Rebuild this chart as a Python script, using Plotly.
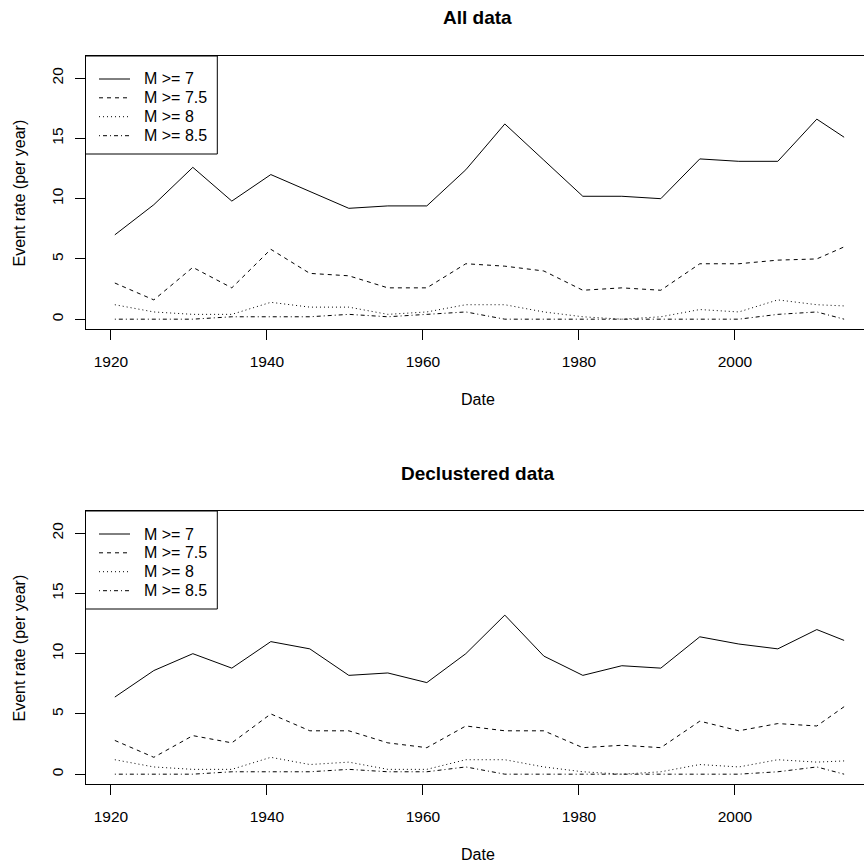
import plotly.graph_objects as go

# Mid-points of the 5-year bins (last bin is a partial one)
years = [1920.5, 1925.5, 1930.5, 1935.5, 1940.5, 1945.5, 1950.5, 1955.5, 1960.5,
         1965.5, 1970.5, 1975.5, 1980.5, 1985.5, 1990.5, 1995.5, 2000.5, 2005.5,
         2010.5, 2014.0]

# Event rates (per year), full catalogue
all_m7 = [7.0, 9.5, 12.6, 9.8, 12.0, 10.6, 9.2, 9.4, 9.4, 12.4,
          16.2, 13.2, 10.2, 10.2, 10.0, 13.3, 13.1, 13.1, 16.6, 15.1]
all_m75 = [3.0, 1.6, 4.3, 2.6, 5.8, 3.8, 3.6, 2.6, 2.6, 4.6,
           4.4, 4.0, 2.4, 2.6, 2.4, 4.6, 4.6, 4.9, 5.0, 6.0]
all_m8 = [1.2, 0.6, 0.4, 0.4, 1.4, 1.0, 1.0, 0.4, 0.6, 1.2,
          1.2, 0.6, 0.2, 0.0, 0.2, 0.8, 0.6, 1.6, 1.2, 1.1]
all_m85 = [0.0, 0.0, 0.0, 0.2, 0.2, 0.2, 0.4, 0.2, 0.4, 0.6,
           0.0, 0.0, 0.0, 0.0, 0.0, 0.0, 0.0, 0.4, 0.6, 0.0]

# Event rates (per year), declustered catalogue
dec_m7 = [6.4, 8.6, 10.0, 8.8, 11.0, 10.4, 8.2, 8.4, 7.6, 10.0,
          13.2, 9.8, 8.2, 9.0, 8.8, 11.4, 10.8, 10.4, 12.0, 11.1]
dec_m75 = [2.8, 1.4, 3.2, 2.6, 5.0, 3.6, 3.6, 2.6, 2.2, 4.0,
           3.6, 3.6, 2.2, 2.4, 2.2, 4.4, 3.6, 4.2, 4.0, 5.6]
dec_m8 = [1.2, 0.6, 0.4, 0.4, 1.4, 0.8, 1.0, 0.4, 0.4, 1.2,
          1.2, 0.6, 0.2, 0.0, 0.2, 0.8, 0.6, 1.2, 1.0, 1.1]
dec_m85 = [0.0, 0.0, 0.0, 0.2, 0.2, 0.2, 0.4, 0.2, 0.2, 0.6,
           0.0, 0.0, 0.0, 0.0, 0.0, 0.0, 0.0, 0.2, 0.6, 0.0]

series_names = ["M >= 7", "M >= 7.5", "M >= 8", "M >= 8.5"]
panel_titles = ["All data", "Declustered data"]
x_ticks = [1920, 1940, 1960, 1980, 2000]
y_ticks = [0, 5, 10, 15, 20]

# R-style line types: solid, dashed, dotted, dot-dash
dashes = ["solid", "4px,4px", "1px,3px", "1px,3px,4px,3px"]

W, H = 864, 868
FONT = "Liberation Sans, Arial, sans-serif"


def px_x(p):
    return p / W


def px_y(p):
    return 1 - p / H


panels = [
    dict(data=[all_m7, all_m75, all_m8, all_m85], top=56.0, bottom=329.3),
    dict(data=[dec_m7, dec_m75, dec_m8, dec_m85], top=511.0, bottom=784.3),
]

fig = go.Figure()
layout = dict(
    width=W, height=H,
    margin=dict(l=0, r=0, t=0, b=0),
    paper_bgcolor="white", plot_bgcolor="white",
    showlegend=False,
    font=dict(family=FONT, color="black"),
)
shapes = []
annotations = []

for i, p in enumerate(panels):
    sfx = "" if i == 0 else str(i + 1)
    for vals, name, dash in zip(p["data"], series_names, dashes):
        fig.add_trace(go.Scatter(
            x=years, y=vals, mode="lines", name=name,
            line=dict(color="black", width=1, dash=dash),
            xaxis="x" + sfx, yaxis="y" + sfx, showlegend=False,
        ))

    layout["xaxis" + sfx] = dict(
        domain=[85.5 / W, 1.0], range=[1916.74, 2016.55], anchor="y" + sfx,
        tickvals=x_ticks, ticks="outside", ticklen=10, tickwidth=1,
        tickcolor="black", showline=True, linecolor="black", linewidth=1,
        mirror=True, showgrid=False, zeroline=False,
        tickfont=dict(size=15.5, family=FONT, color="black"),
        ticklabelstandoff=8, automargin=False,
    )
    layout["yaxis" + sfx] = dict(
        domain=[px_y(p["bottom"]), px_y(p["top"])], range=[-0.84, 21.84],
        anchor="x" + sfx, tickvals=y_ticks, tickangle=-90, ticks="outside",
        ticklen=10, tickwidth=1, tickcolor="black", showline=True,
        linecolor="black", linewidth=1, showgrid=False, zeroline=False,
        tickfont=dict(size=15.5, family=FONT, color="black"),
        ticklabelstandoff=5, automargin=False,
    )

    off = p["top"] - 56.0
    # panel title
    annotations.append(dict(
        text="<b>%s</b>" % panel_titles[i], x=px_x(478), y=px_y(18 + off),
        xref="paper", yref="paper", showarrow=False,
        xanchor="center", yanchor="middle", font=dict(size=19, family=FONT),
    ))
    # axis titles
    annotations.append(dict(
        text="Date", x=px_x(478), y=px_y(399 + off), xref="paper", yref="paper",
        showarrow=False, xanchor="center", yanchor="middle",
        font=dict(size=16, family=FONT),
    ))
    annotations.append(dict(
        text="Event rate (per year)", x=px_x(18.5), y=px_y(193 + off),
        xref="paper", yref="paper", showarrow=False, textangle=-90,
        xanchor="center", yanchor="middle", font=dict(size=16, family=FONT),
    ))

    # legend box in the top-left corner of the plot region
    shapes.append(dict(
        type="rect", xref="paper", yref="paper",
        x0=px_x(85.5), x1=px_x(217.3), y0=px_y(154 + off), y1=px_y(56 + off),
        line=dict(color="black", width=1), fillcolor="white", layer="above",
    ))
    rows = [79.0, 97.8, 116.7, 135.7]
    for name, dash, ry in zip(series_names, dashes, rows):
        shapes.append(dict(
            type="line", xref="paper", yref="paper",
            x0=px_x(99), x1=px_x(130), y0=px_y(ry + off), y1=px_y(ry + off),
            line=dict(color="black", width=1, dash=dash), layer="above",
        ))
        annotations.append(dict(
            text=name, x=px_x(142), y=px_y(ry + off), xref="paper", yref="paper",
            showarrow=False, xanchor="left", yanchor="middle",
            font=dict(size=16, family=FONT),
        ))

layout["shapes"] = shapes
layout["annotations"] = annotations
fig.update_layout(**layout)
fig.write_html("out.html")
